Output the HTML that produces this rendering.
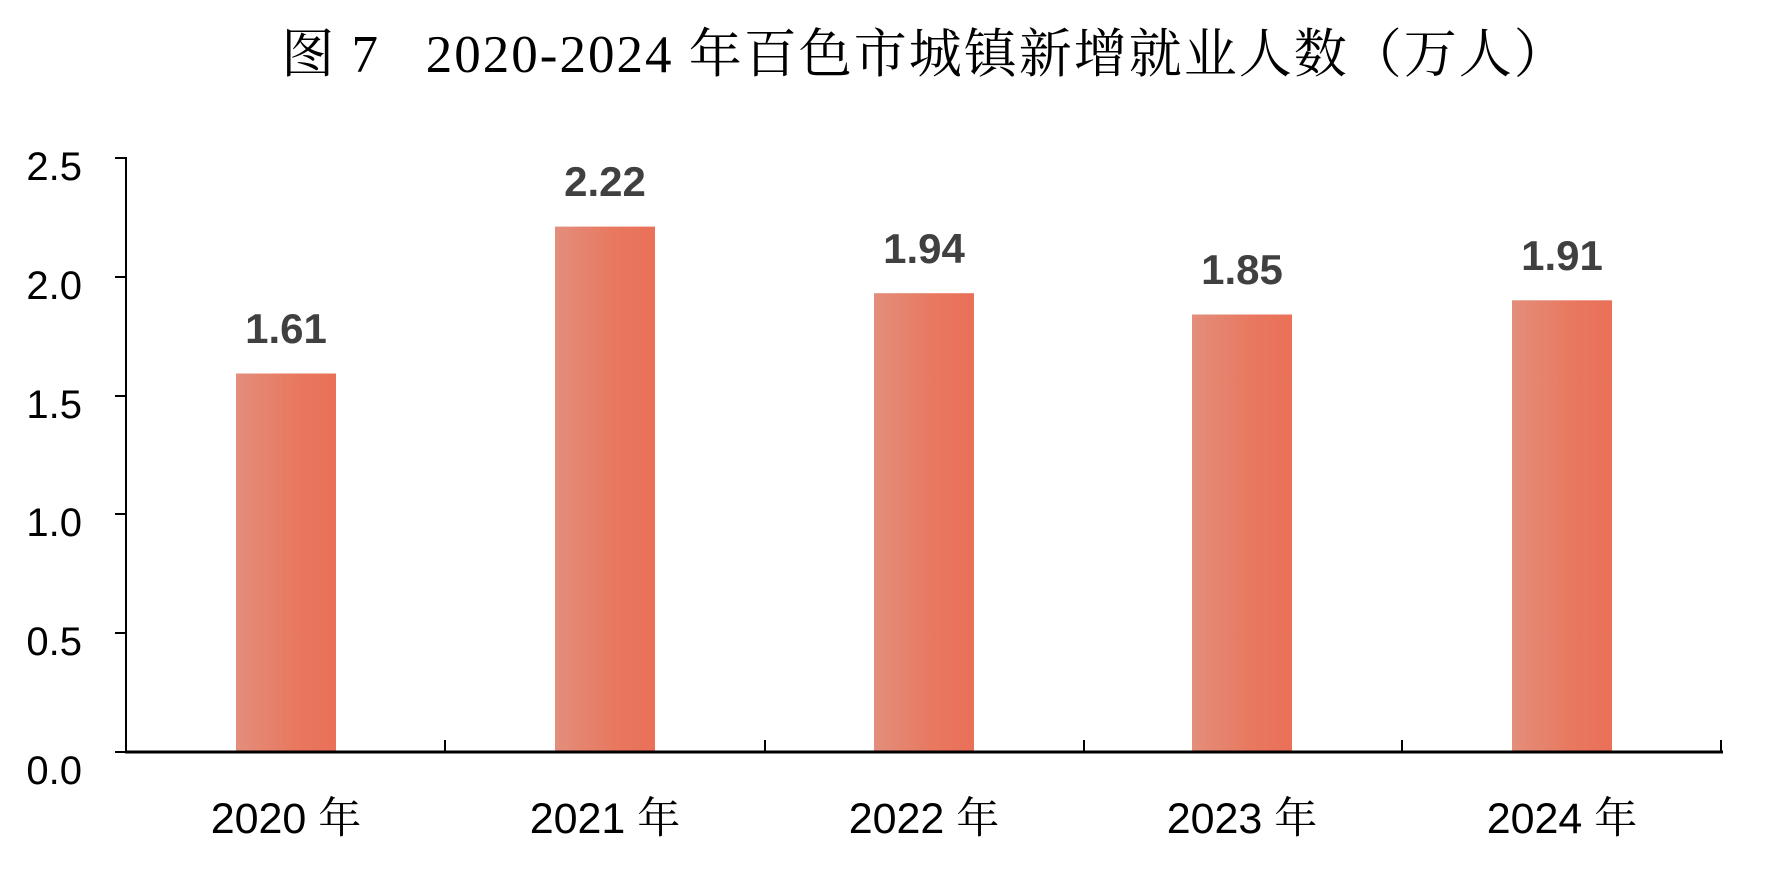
<!DOCTYPE html>
<html><head><meta charset="utf-8"><style>
body{margin:0;background:#fff;}
svg{display:block}
</style></head><body>
<svg width="1776" height="870" xmlns="http://www.w3.org/2000/svg">
<defs><linearGradient id="g" x1="0" x2="1" y1="0" y2="0"><stop offset="0" stop-color="#E38E7C"/><stop offset="0.6" stop-color="#E8785F"/><stop offset="1" stop-color="#EA7058"/></linearGradient></defs>
<text x="925" y="72" text-anchor="middle" font-family="'Liberation Serif','Noto Serif CJK SC',serif" font-size="53" letter-spacing="2" fill="#000" xml:space="preserve">图 7   2020-2024 年百色市城镇新增就业人数（万人）</text>
<g fill="url(#g)">
<rect x="236" y="373.5" width="100" height="378.5"/>
<rect x="555" y="226.6" width="100" height="525.4"/>
<rect x="874" y="293.2" width="100" height="458.8"/>
<rect x="1192" y="314.5" width="100" height="437.5"/>
<rect x="1512" y="300.3" width="100" height="451.7"/>
</g>
<g font-family="'Liberation Sans',sans-serif" font-weight="bold" font-size="42" fill="#404040" text-anchor="middle">
<text x="286" y="343">1.61</text><text x="605" y="196">2.22</text><text x="924" y="263">1.94</text><text x="1242" y="284">1.85</text><text x="1562" y="270">1.91</text>
</g>
<g stroke="#000" fill="none">
<line x1="126" y1="157" x2="126" y2="753" stroke-width="2"/>
<line x1="125" y1="752" x2="1723" y2="752" stroke-width="3"/>
<g stroke-width="2">
<line x1="115" y1="158" x2="126" y2="158"/><line x1="115" y1="277" x2="126" y2="277"/><line x1="115" y1="396" x2="126" y2="396"/><line x1="115" y1="514" x2="126" y2="514"/><line x1="115" y1="633" x2="126" y2="633"/><line x1="115" y1="752" x2="126" y2="752"/>
<line x1="445" y1="740" x2="445" y2="752"/><line x1="765" y1="740" x2="765" y2="752"/><line x1="1084" y1="740" x2="1084" y2="752"/><line x1="1402" y1="740" x2="1402" y2="752"/><line x1="1721" y1="740" x2="1721" y2="752"/>
</g></g>
<g font-family="'Liberation Sans',sans-serif" font-size="40" fill="#000" text-anchor="end">
<text x="82" y="180">2.5</text><text x="82" y="299">2.0</text><text x="82" y="418">1.5</text><text x="82" y="536">1.0</text><text x="82" y="655">0.5</text><text x="82" y="784">0.0</text>
</g>
<g font-family="'Liberation Sans','Noto Serif CJK SC',sans-serif" font-size="43" fill="#000" text-anchor="middle">
<text x="286" y="833">2020 年</text><text x="605" y="833">2021 年</text><text x="924" y="833">2022 年</text><text x="1242" y="833">2023 年</text><text x="1562" y="833">2024 年</text>
</g>
</svg>
</body></html>
